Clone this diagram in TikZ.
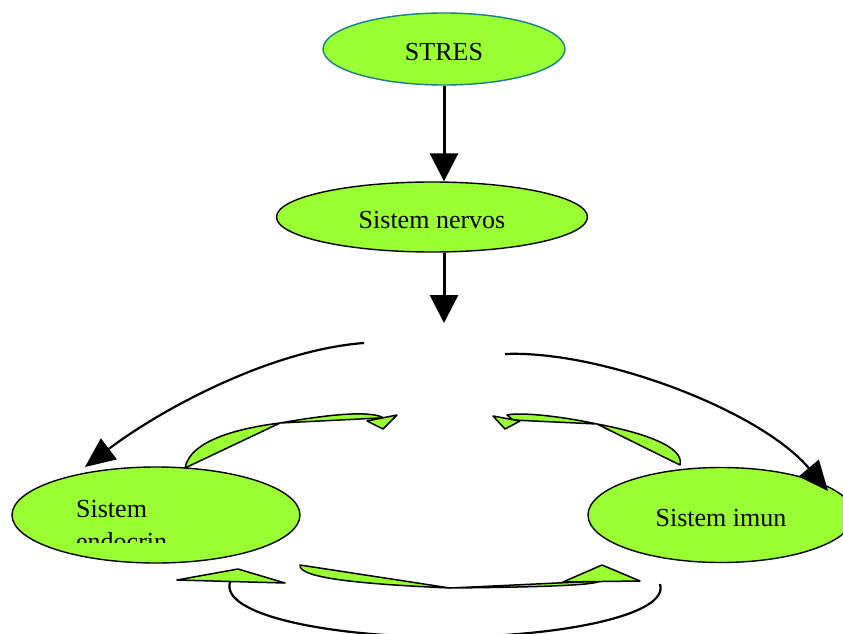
\documentclass[tikz,border=0pt]{standalone}
\usepackage{fontspec}
\setmainfont{Liberation Serif}
\usetikzlibrary{shapes.geometric,arrows.meta}
\definecolor{lime}{RGB}{153,255,51}
\definecolor{tealedge}{RGB}{25,125,145}
\begin{document}
\begin{tikzpicture}[x=1pt,y=-1pt,
  bubble/.style={ellipse,fill=lime,draw=black,line width=1.4pt,inner sep=0pt,
                 text height=23pt,text depth=0pt,
                 font=\fontsize{26}{30}\selectfont},
  label/.style={anchor=base west,inner sep=0pt,font=\fontsize{26}{30}\selectfont},
  thickarrow/.style={line width=3pt,-{Triangle[length=28pt,width=28pt]}},
  curvearrow/.style={line width=2.2pt,-{Triangle[length=30pt,width=26pt]}},
  leaf/.style={fill=lime,draw=black,line width=1.5pt,line join=round},
  loopline/.style={line width=2.2pt}]
\useasboundingbox (0,0) rectangle (843,634);

% main ellipses
\node[bubble,draw=tealedge,minimum width=242pt,minimum height=72pt] (stres) at (444,49) {STRES};
\node[bubble,minimum width=311pt,minimum height=70pt] (nervos) at (432,217) {Sistem nervos};
\node[bubble,minimum width=288pt,minimum height=96pt] (endo) at (156,515) {};
\node[bubble,minimum width=266pt,minimum height=95pt] (imun) at (721,515) {Sistem imun};

% endocrine label, cut off by its text frame
\begin{scope}
  \clip (70,488) rectangle (295,542);
  \node[label] (endoA) at (76,517) {Sistem};
  \node[label] (endoB) at (76,550) {endocrin};
\end{scope}

% connector end points
\coordinate (split) at (444,323);
\coordinate (lstart) at (364,343);
\coordinate (ltip) at (85,467);
\coordinate (rstart) at (505,354);
\coordinate (rtip) at (828,491);

% straight arrows down the middle
\draw[thickarrow] (stres.south) -- (stres.south |- nervos.north);
\draw[thickarrow] (nervos.south -| stres.south) -- (split);

% curved arrows to both systems
\draw[curvearrow] (lstart) .. controls (270,350) and (160,410) .. (ltip);
\draw[curvearrow] (rstart) .. controls (600,350) and (760,410) .. (rtip);

% upper left block arrow
\draw[leaf] (185,468) .. controls (190,440) and (240,428) .. (280,423)
  .. controls (320,416) and (365,410) .. (382,417) -- (380,418) -- (280,423) -- cycle;
\draw[leaf] (367,421) -- (397,415) -- (383,429) -- cycle;

% upper right block arrow
\draw[leaf] (680,465) .. controls (685,446) and (640,432) .. (597,424)
  .. controls (560,416) and (520,412) .. (507,415) -- (513,420) -- (597,424) -- cycle;
\draw[leaf] (493,416) -- (520,421) -- (505,429) -- cycle;

% lower block arrows
\draw[leaf] (300,565) .. controls (298,578) and (360,584) .. (450,588) -- cycle;
\draw[leaf] (450,588) -- (600,581) .. controls (595,585) and (550,587) .. (450,588) -- cycle;
\draw[leaf] (177,580) -- (238,569) -- (285,583) -- cycle;
\draw[leaf] (563,582) -- (602,565) -- (640,581) -- cycle;

% loop under the two systems
\draw[loopline] (230,582) .. controls (220,615) and (330,637) .. (445,637)
  .. controls (560,637) and (670,615) .. (660,584);
\end{tikzpicture}
\end{document}
